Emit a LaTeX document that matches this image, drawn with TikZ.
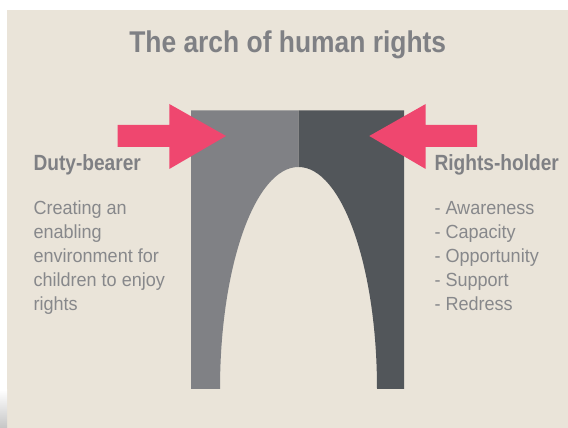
\documentclass[tikz,border=0pt]{standalone}
\usepackage{fontspec}
\newfontfamily\titlefont[FakeStretch=0.88]{Liberation Sans}
\newfontfamily\headfont[FakeStretch=0.87]{Liberation Sans}
\newfontfamily\bodyfont[FakeStretch=0.95]{Liberation Sans}
\definecolor{bgbeige}{HTML}{EAE4D9}
\definecolor{archlight}{HTML}{808185}
\definecolor{archdark}{HTML}{52565A}
\definecolor{arrowpink}{HTML}{EF476F}
\definecolor{txtgray}{HTML}{7F8084}
\definecolor{bodygray}{HTML}{87888B}
\tikzset{
  titletext/.style={anchor=base, inner sep=0pt, text=txtgray, font=\titlefont\bfseries\fontsize{30}{30}\selectfont},
  headtext/.style={anchor=base west, inner sep=0pt, text=txtgray, font=\headfont\bfseries\fontsize{22}{22}\selectfont},
  bodytext/.style={anchor=base west, inner sep=0pt, text=bodygray, font=\bodyfont\fontsize{19}{19}\selectfont},
  pinkarrow/.style={fill=arrowpink, draw=none}
}
\begin{document}
\begin{tikzpicture}[x=1pt,y=1pt]
\useasboundingbox (0,0) rectangle (568,428);
\fill[white] (0,0) rectangle (568,428);
\fill[bgbeige] (7,0) rectangle (568,418);
\shade[top color=white, bottom color=gray!45] (0,0) rectangle (7,38);
% arch
\fill[archlight] (191,39) -- (191,317.5) -- (298.5,317.5) -- (298.5,261)
  arc[start angle=90, end angle=180, x radius=78.5pt, y radius=222pt] -- cycle;
\fill[archdark] (298.5,317.5) -- (404,317.5) -- (404,39) -- (377,39)
  arc[start angle=0, end angle=90, x radius=78.5pt, y radius=222pt] -- cycle;
% arrows
\fill[pinkarrow] (117.7,303) -- (169.3,303) -- (169.3,324) -- (226,292) -- (169.3,259) -- (169.3,281) -- (117.7,281) -- cycle;
\fill[pinkarrow] (477,303) -- (425.7,303) -- (425.7,324) -- (369.3,292) -- (425.7,259) -- (425.7,281) -- (477,281) -- cycle;
% title
\node[titletext] (title) at (287.7,375.7) {The arch of human rights};
% left text
\node[headtext] (duty) at (33.3,257.3) {Duty-bearer};
\node[bodytext] (l1) at (33.3,213.7) {Creating an};
\node[bodytext] (l2) at (33.3,189.7) {enabling};
\node[bodytext] (l3) at (33.3,165.7) {environment for};
\node[bodytext] (l4) at (33.3,141.7) {children to enjoy};
\node[bodytext] (l5) at (33.3,117.7) {rights};
% right text
\node[headtext] (rights) at (434.3,257.3) {Rights-holder};
\node[bodytext] (r1) at (434.3,213.7) {- Awareness};
\node[bodytext] (r2) at (434.3,189.7) {- Capacity};
\node[bodytext] (r3) at (434.3,165.7) {- Opportunity};
\node[bodytext] (r4) at (434.3,141.7) {- Support};
\node[bodytext] (r5) at (434.3,117.7) {- Redress};
\end{tikzpicture}
\end{document}
